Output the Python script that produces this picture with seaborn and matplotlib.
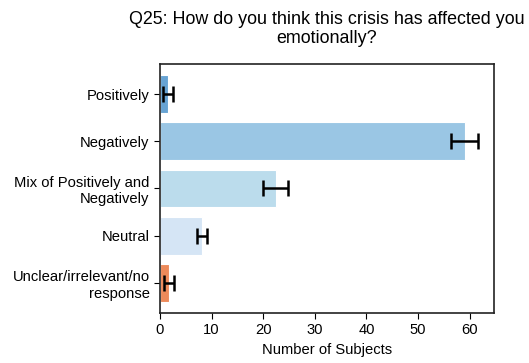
import matplotlib
matplotlib.use("Agg")
import matplotlib.pyplot as plt
import seaborn as sns
import pandas as pd

categories = ["Positively", "Negatively", "Mix of Positively and\nNegatively",
              "Neutral", "Unclear/irrelevant/no\nresponse"]
counts = [1.5, 59.0, 22.4, 8.2, 1.75]
errors = [1.0, 2.6, 2.4, 1.0, 1.0]
colors = ["#67a3d3", "#9ac6e4", "#bbdcec", "#d5e5f5", "#ed8a5a"]

sns.set_style("ticks")
plt.rcParams["font.family"] = ["Liberation Sans", "DejaVu Sans"]
plt.rcParams["text.color"] = "black"
plt.rcParams["axes.labelcolor"] = "black"

df = pd.DataFrame({"category": categories, "count": counts})

fig, ax = plt.subplots(figsize=(5.29, 3.63), dpi=100)
sns.barplot(data=df, y="category", x="count", hue="category", palette=colors,
            legend=False, errorbar=None, width=0.8, ax=ax, linewidth=0.8,
            edgecolor="white", saturation=1)
ax.errorbar(counts, range(len(categories)), xerr=errors, fmt="none",
            ecolor="black", elinewidth=1.8, capsize=5.5, capthick=1.8)

ax.set_xlim(0, 64.7)
ax.set_ylim(4.64, -0.64)
ax.set_xticks(range(0, 61, 10))
ax.set_ylabel("")
ax.set_xlabel("Number of Subjects", fontsize=10.6, color="black")
ax.tick_params(labelsize=10.6, colors="black", length=4)
for s in ax.spines.values():
    s.set_visible(True)
    s.set_color("#222222")
    s.set_linewidth(1.2)
ax.set_title("Q25: How do you think this crisis has affected you\nemotionally?",
             fontsize=12.9, color="black", pad=15)

fig.subplots_adjust(left=160/529, right=494/529, top=1 - 64/363, bottom=1 - 313/363)
fig.savefig("out.png", dpi=100)
